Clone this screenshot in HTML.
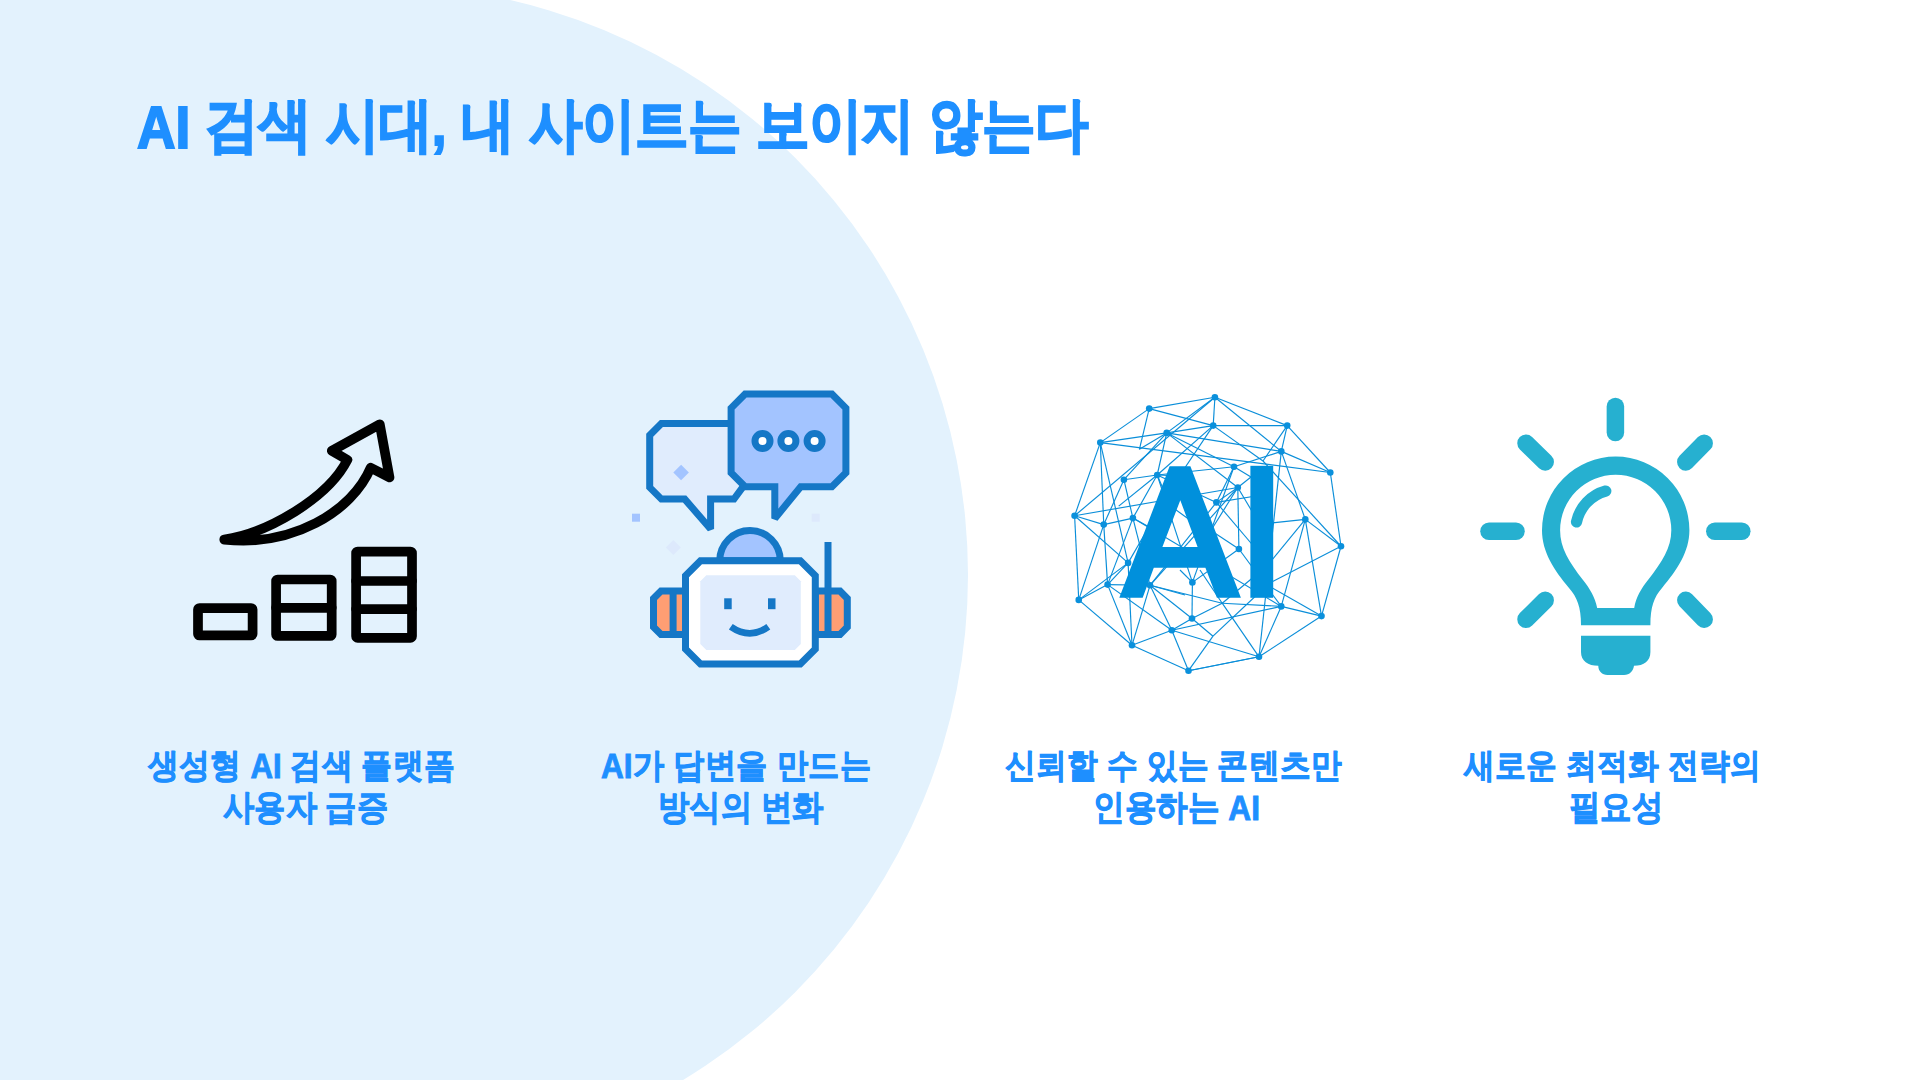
<!DOCTYPE html>
<html lang="ko">
<head>
<meta charset="utf-8">
<title>AI 검색 시대</title>
<style>
html,body{margin:0;padding:0;}
body{width:1920px;height:1080px;overflow:hidden;background:#ffffff;position:relative;font-family:"Liberation Sans",sans-serif;}
.bg{position:absolute;left:-212px;top:-15px;width:1180px;height:1180px;border-radius:50%;background:#e3f2fd;}
.bg2{position:absolute;left:0;top:0;width:378px;height:1080px;background:#e3f2fd;}
.ai{position:relative;}
.tx{position:absolute;margin:0;font-weight:700;color:#1e8fff;white-space:nowrap;line-height:1;transform-origin:0 0;}
svg.ic{position:absolute;left:0;top:0;}
</style>
</head>
<body>
<div class="bg"></div><div class="bg2"></div>
<h1 class="tx" style="left:137.41px;top:95.06px;font-size:60.33px;-webkit-text-stroke:2.0px #1e8fff;transform:scale(0.8825,0.9738)"><span class="ai" style="top:3px">AI</span> 검색 시대, 내 사이트는 보이지 않는다</h1>
<svg class="ic" width="1920" height="1080" viewBox="0 0 1920 1080">
 <!-- icon 1: growth chart -->
 <g fill="none" stroke="#000" stroke-width="9.7" stroke-linejoin="round" stroke-linecap="round">
  <path d="M224.3,539.6 C268,533 328,498 347.4,459.9 L331.8,450.8 L379.8,424.3 L389.5,477.4 L370.7,467.7 C352,512 292,547 224.3,539.6 Z"/>
  <rect x="198" y="608.1" width="54.6" height="27.3" rx="1.5"/>
  <rect x="276.1" y="579.5" width="55.6" height="56.4" rx="1.5"/>
  <line x1="276.1" y1="607.8" x2="331.7" y2="607.8"/>
  <rect x="356.1" y="551.6" width="55.9" height="86.2" rx="1.5"/>
  <line x1="356.1" y1="581" x2="412" y2="581"/>
  <line x1="356.1" y1="609.1" x2="412" y2="609.1"/>
 </g>
 <!-- icon 2: robot chat -->
 <g stroke="#1577c6" stroke-width="7" stroke-linejoin="miter" stroke-miterlimit="2" fill="none">
  <path fill="#e0ecfd" d="M661.4,423.5 H745 V484 L734,499.1 H710.6 V529 L684.7,499.1 H661.4 L649.7,487.4 V435.2 Z"/>
  <path fill="#a3c4ff" d="M745.1,394.1 H831.9 L845.9,408.1 V472.8 L831.9,486.8 H800.7 L774.8,518.5 V486.8 H745.1 L731.1,472.8 V408.1 Z"/>
  <circle cx="762.5" cy="441" r="7.5" fill="#fff"/>
  <circle cx="788.4" cy="441" r="7.5" fill="#fff"/>
  <circle cx="814.6" cy="441" r="7.5" fill="#fff"/>
  <path fill="#ff9e73" d="M685.5,591 H661 L653.5,598.5 V627 L661,634.5 H685.5 Z"/>
  <path fill="#ff9e73" d="M815.3,591 H840 L847.3,598.5 V627 L840,634.5 H815.3 Z"/>
  <line x1="673.1" y1="591" x2="673.1" y2="634.5"/>
  <line x1="828" y1="542" x2="828" y2="634.5"/>
  <path fill="#a3c4ff" d="M719.7,560.8 A30.3,30.3 0 0 1 780.3,560.8 Z"/>
  <path fill="#ffffff" d="M700.5,560.8 H800.3 L815.3,575.8 V649 L800.3,664 H700.5 L685.5,649 V575.8 Z"/>
 </g>
 <path fill="#e0ecfd" d="M706.3,575.3 H794.8 L800.8,581.3 V644 L794.8,650 H706.3 L700.3,644 V581.3 Z"/>
 <g fill="#1577c6">
  <rect x="724.2" y="598.3" width="7.5" height="10.9"/>
  <rect x="768" y="598.3" width="7.5" height="10.9"/>
 </g>
 <path d="M730.8,626.7 Q750,640 768.3,626.7" fill="none" stroke="#1577c6" stroke-width="6.7"/>
 <g fill="#a3c4ff">
  <rect x="632" y="513.7" width="8" height="8"/>
  <path d="M681.1,464.7 L688.9,472.5 L681.1,480.3 L673.3,472.5 Z"/>
 </g>
 <g fill="#dde9fc">
  <rect x="811.7" y="513.7" width="8" height="8"/>
  <path d="M673.3,540 L680.8,547.5 L673.3,555 L665.8,547.5 Z"/>
 </g>
 <!-- icon 3: AI network -->
 <g stroke="#0a8ed9" stroke-width="1.15"><line x1="1214.9" y1="397.2" x2="1149.2" y2="408.6"/><line x1="1214.9" y1="397.2" x2="1287.2" y2="425.6"/><line x1="1287.2" y1="425.6" x2="1330.3" y2="472.5"/><line x1="1330.3" y1="472.5" x2="1341" y2="546.25"/><line x1="1341" y1="546.25" x2="1321.5" y2="616.1"/><line x1="1321.5" y1="616.1" x2="1259" y2="656.8"/><line x1="1259" y1="656.8" x2="1188.5" y2="670.7"/><line x1="1188.5" y1="670.7" x2="1132" y2="645.3"/><line x1="1132" y1="645.3" x2="1078.75" y2="599.9"/><line x1="1078.75" y1="599.9" x2="1074.6" y2="515.8"/><line x1="1074.6" y1="515.8" x2="1100.3" y2="442.6"/><line x1="1100.3" y1="442.6" x2="1149.2" y2="408.6"/><line x1="1214.9" y1="397.2" x2="1213.2" y2="425.6"/><line x1="1214.9" y1="397.2" x2="1166.7" y2="432.9"/><line x1="1214.9" y1="397.2" x2="1281.3" y2="451.4"/><line x1="1149.2" y1="408.6" x2="1213.2" y2="425.6"/><line x1="1149.2" y1="408.6" x2="1139.4" y2="449.3"/><line x1="1139.4" y1="449.3" x2="1166.7" y2="432.9"/><line x1="1213.2" y1="425.6" x2="1287.2" y2="425.6"/><line x1="1213.2" y1="425.6" x2="1166.7" y2="432.9"/><line x1="1213.2" y1="425.6" x2="1157.2" y2="475"/><line x1="1213.2" y1="425.6" x2="1172" y2="487"/><line x1="1287.2" y1="425.6" x2="1281.3" y2="451.4"/><line x1="1166.7" y1="432.9" x2="1100.3" y2="442.6"/><line x1="1166.7" y1="432.9" x2="1281.3" y2="451.4"/><line x1="1166.7" y1="432.9" x2="1234" y2="466.7"/><line x1="1166.7" y1="432.9" x2="1157.2" y2="475"/><line x1="1166.7" y1="432.9" x2="1123.9" y2="479.7"/><line x1="1166.7" y1="432.9" x2="1237.8" y2="487.5"/><line x1="1074.6" y1="515.8" x2="1214.9" y2="397.2"/><line x1="1100.3" y1="442.6" x2="1330.3" y2="472.5"/><line x1="1100.3" y1="442.6" x2="1103.75" y2="524.6"/><line x1="1100.3" y1="442.6" x2="1128.1" y2="562.9"/><line x1="1281.3" y1="451.4" x2="1330.3" y2="472.5"/><line x1="1281.3" y1="451.4" x2="1234" y2="466.7"/><line x1="1281.3" y1="451.4" x2="1305.3" y2="519.4"/><line x1="1281.3" y1="451.4" x2="1259" y2="656.8"/><line x1="1234" y1="466.7" x2="1157.2" y2="475"/><line x1="1234" y1="466.7" x2="1216.4" y2="502.4"/><line x1="1234" y1="466.7" x2="1192.4" y2="582.4"/><line x1="1157.2" y1="475" x2="1123.9" y2="479.7"/><line x1="1157.2" y1="475" x2="1216.4" y2="502.4"/><line x1="1157.2" y1="475" x2="1132.9" y2="518.1"/><line x1="1157.2" y1="475" x2="1192.4" y2="582.4"/><line x1="1123.9" y1="479.7" x2="1103.75" y2="524.6"/><line x1="1123.9" y1="479.7" x2="1132.9" y2="518.1"/><line x1="1238.9" y1="549" x2="1195" y2="520"/><line x1="1172" y1="507" x2="1192" y2="521.5"/><line x1="1237.8" y1="487.5" x2="1216.4" y2="502.4"/><line x1="1237.8" y1="487.5" x2="1074.6" y2="515.8"/><line x1="1237.8" y1="487.5" x2="1238.9" y2="549"/><line x1="1216.4" y1="502.4" x2="1150" y2="585.3"/><line x1="1074.6" y1="515.8" x2="1103.75" y2="524.6"/><line x1="1074.6" y1="515.8" x2="1128.1" y2="562.9"/><line x1="1103.75" y1="524.6" x2="1132.9" y2="518.1"/><line x1="1103.75" y1="524.6" x2="1107.6" y2="584.6"/><line x1="1103.75" y1="524.6" x2="1078.75" y2="599.9"/><line x1="1132.9" y1="518.1" x2="1107.6" y2="584.6"/><line x1="1132.9" y1="518.1" x2="1150" y2="585.3"/><line x1="1132.9" y1="518.1" x2="1281.25" y2="606.4"/><line x1="1305.3" y1="519.4" x2="1341" y2="546.25"/><line x1="1305.3" y1="519.4" x2="1281.25" y2="606.4"/><line x1="1305.3" y1="519.4" x2="1321.5" y2="616.1"/><line x1="1238.9" y1="549" x2="1192.4" y2="582.4"/><line x1="1238.9" y1="549" x2="1281.25" y2="606.4"/><line x1="1128.1" y1="562.9" x2="1107.6" y2="584.6"/><line x1="1128.1" y1="562.9" x2="1078.75" y2="599.9"/><line x1="1128.1" y1="562.9" x2="1132" y2="645.3"/><line x1="1107.6" y1="584.6" x2="1078.75" y2="599.9"/><line x1="1107.6" y1="584.6" x2="1150" y2="585.3"/><line x1="1107.6" y1="584.6" x2="1171.8" y2="630.3"/><line x1="1107.6" y1="584.6" x2="1132" y2="645.3"/><line x1="1150" y1="585.3" x2="1237.8" y2="487.5"/><line x1="1150" y1="585.3" x2="1192" y2="618.5"/><line x1="1150" y1="585.3" x2="1171.8" y2="630.3"/><line x1="1150" y1="585.3" x2="1132" y2="645.3"/><line x1="1192.4" y1="582.4" x2="1192" y2="618.5"/><line x1="1192" y1="618.5" x2="1171.8" y2="630.3"/><line x1="1171.8" y1="630.3" x2="1132" y2="645.3"/><line x1="1171.8" y1="630.3" x2="1188.5" y2="670.7"/><line x1="1171.8" y1="630.3" x2="1281.25" y2="606.4"/><line x1="1171.8" y1="630.3" x2="1259" y2="656.8"/><line x1="1188.5" y1="670.7" x2="1259" y2="656.8"/><line x1="1281.25" y1="606.4" x2="1321.5" y2="616.1"/><line x1="1281.25" y1="606.4" x2="1259" y2="656.8"/><line x1="1157.2" y1="475" x2="1118.7" y2="506.1"/><line x1="1213.2" y1="425.6" x2="1263" y2="461"/><line x1="1287.2" y1="425.6" x2="1263" y2="461"/><line x1="1263" y1="461" x2="1341" y2="546.25"/><line x1="1234" y1="466.7" x2="1251" y2="477"/><line x1="1237.8" y1="487.5" x2="1251" y2="477"/><line x1="1150" y1="585.3" x2="1222.2" y2="603.2"/><line x1="1222.2" y1="603.2" x2="1281.25" y2="606.4"/><line x1="1192" y1="618.5" x2="1222.2" y2="603.2"/><line x1="1259" y1="656.8" x2="1222.2" y2="603.2"/><line x1="1222.2" y1="603.2" x2="1200" y2="570"/><line x1="1222.2" y1="603.2" x2="1256" y2="575"/><line x1="1192" y1="618.5" x2="1213" y2="636.2"/><line x1="1213" y1="636.2" x2="1188.5" y2="670.7"/><line x1="1213" y1="636.2" x2="1262" y2="590"/><line x1="1157.2" y1="475" x2="1180" y2="476"/><line x1="1157.2" y1="475" x2="1170" y2="505"/><line x1="1132.9" y1="518.1" x2="1160" y2="533"/><line x1="1128.1" y1="562.9" x2="1150" y2="525"/><line x1="1237.8" y1="487.5" x2="1256" y2="518"/><line x1="1237.8" y1="487.5" x2="1205" y2="540"/><line x1="1216.4" y1="502.4" x2="1256" y2="496"/><line x1="1216.4" y1="502.4" x2="1256" y2="549"/><line x1="1262" y1="524" x2="1305.3" y2="519.4"/><line x1="1341" y1="546.25" x2="1262" y2="587"/><line x1="1262" y1="572" x2="1305.3" y2="519.4"/><line x1="1262" y1="582" x2="1321.5" y2="616.1"/><line x1="1192.4" y1="582.4" x2="1180" y2="570"/><line x1="1150" y1="585.3" x2="1185" y2="595"/></g>
 <g fill="#0a90dc"><circle cx="1214.9" cy="397.2" r="3.3"/><circle cx="1149.2" cy="408.6" r="3.3"/><circle cx="1213.2" cy="425.6" r="3.3"/><circle cx="1287.2" cy="425.6" r="3.3"/><circle cx="1166.7" cy="432.9" r="3.3"/><circle cx="1100.3" cy="442.6" r="3.3"/><circle cx="1281.3" cy="451.4" r="3.3"/><circle cx="1330.3" cy="472.5" r="3.3"/><circle cx="1234" cy="466.7" r="3.3"/><circle cx="1157.2" cy="475" r="3.3"/><circle cx="1123.9" cy="479.7" r="3.3"/><circle cx="1237.8" cy="487.5" r="3.3"/><circle cx="1216.4" cy="502.4" r="3.3"/><circle cx="1074.6" cy="515.8" r="3.3"/><circle cx="1103.75" cy="524.6" r="3.3"/><circle cx="1132.9" cy="518.1" r="3.3"/><circle cx="1305.3" cy="519.4" r="3.3"/><circle cx="1341" cy="546.25" r="3.3"/><circle cx="1238.9" cy="549" r="3.3"/><circle cx="1128.1" cy="562.9" r="3.3"/><circle cx="1107.6" cy="584.6" r="3.3"/><circle cx="1078.75" cy="599.9" r="3.3"/><circle cx="1150" cy="585.3" r="3.3"/><circle cx="1192.4" cy="582.4" r="3.3"/><circle cx="1192" cy="618.5" r="3.3"/><circle cx="1171.8" cy="630.3" r="3.3"/><circle cx="1132" cy="645.3" r="3.3"/><circle cx="1188.5" cy="670.7" r="3.3"/><circle cx="1281.25" cy="606.4" r="3.3"/><circle cx="1321.5" cy="616.1" r="3.3"/><circle cx="1259" cy="656.8" r="3.3"/></g>
 <g fill="#0090dc">
  <path d="M1119.3,597.8 L1169.6,466.2 H1190.4 L1240.9,597.8 H1216.9 L1205.4,567.7 H1153.8 L1142.7,597.8 Z M1162.4,546.9 H1197.6 L1180.3,500.2 Z" fill-rule="evenodd"/>
  <rect x="1250.4" y="465.8" width="22.8" height="132"/>
 </g>
 <!-- icon 4: light bulb -->
 <g stroke="#26b0d0" stroke-width="17.5" stroke-linecap="round" fill="none">
  <line x1="1615.4" y1="406.5" x2="1615.4" y2="432.6"/>
  <line x1="1489" y1="531.25" x2="1516" y2="531.25"/>
  <line x1="1714.8" y1="531.25" x2="1741.8" y2="531.25"/>
  <line x1="1526" y1="443.2" x2="1545.2" y2="461.9"/>
  <line x1="1704.2" y1="443.2" x2="1685.8" y2="461.9"/>
  <line x1="1545.2" y1="600.2" x2="1526" y2="619.3"/>
  <line x1="1685.8" y1="600.2" x2="1704.2" y2="619.3"/>
 </g>
 <g fill="#26b0d0">
  <path fill-rule="evenodd" d="M1581,625.3 C1581,607 1577,597 1569,588 C1554,570 1542,552 1542,530.3 A73.7,73.7 0 0 1 1689.4,530.3 C1689.4,552 1677,570 1662,588 C1654,597 1650.4,607 1650.4,625.3 Z M1597.2,607.9 H1634.2 C1636,597 1641,589 1648,580 C1662,562 1671.3,548 1671.3,530.3 A55.6,55.6 0 0 0 1560.1,530.3 C1560.1,548 1569,562 1583,580 C1590,589 1595,597 1597.2,607.9 Z"/>
  <path d="M1581,635.7 H1650.4 V652 C1650.4,661 1644,665.8 1634,665.8 C1633.1,671 1630,675 1624,675 H1607.5 C1602,675 1598.3,671 1598.3,665.8 C1588,665.8 1581,661 1581,652 Z"/>
 </g>
 <path d="M1576.5,522 A41,41 0 0 1 1605.8,491" fill="none" stroke="#26b0d0" stroke-width="11.2" stroke-linecap="round"/>
</svg>
<div class="tx" style="left:148.00px;top:747.86px;font-size:34.95px;-webkit-text-stroke:0.9px #1e8fff;transform:scale(0.8928,0.9853)">생성형 <span class="ai" style="top:1px">AI</span> 검색 플랫폼</div><div class="tx" style="left:223.37px;top:788.84px;font-size:35.05px;-webkit-text-stroke:0.9px #1e8fff;transform:scale(0.8932,1.0006)">사용자 급증</div><div class="tx" style="left:601.45px;top:747.86px;font-size:34.95px;-webkit-text-stroke:0.9px #1e8fff;transform:scale(0.9034,0.9853)"><span class="ai" style="top:1px">AI</span>가 답변을 만드는</div><div class="tx" style="left:657.97px;top:788.84px;font-size:35.05px;-webkit-text-stroke:0.9px #1e8fff;transform:scale(0.8956,1.0006)">방식의 변화</div><div class="tx" style="left:1004.87px;top:747.86px;font-size:34.95px;-webkit-text-stroke:0.9px #1e8fff;transform:scale(0.8884,0.9853)">신뢰할 수 있는 콘텐츠만</div><div class="tx" style="left:1092.83px;top:788.84px;font-size:35.05px;-webkit-text-stroke:0.9px #1e8fff;transform:scale(0.9033,1.0006)">인용하는 <span class="ai" style="top:1px">AI</span></div><div class="tx" style="left:1464.02px;top:747.86px;font-size:34.95px;-webkit-text-stroke:0.9px #1e8fff;transform:scale(0.8894,0.9853)">새로운 최적화 전략의</div><div class="tx" style="left:1569.40px;top:788.84px;font-size:35.05px;-webkit-text-stroke:0.9px #1e8fff;transform:scale(0.8986,1.0006)">필요성</div>
</body>
</html>
